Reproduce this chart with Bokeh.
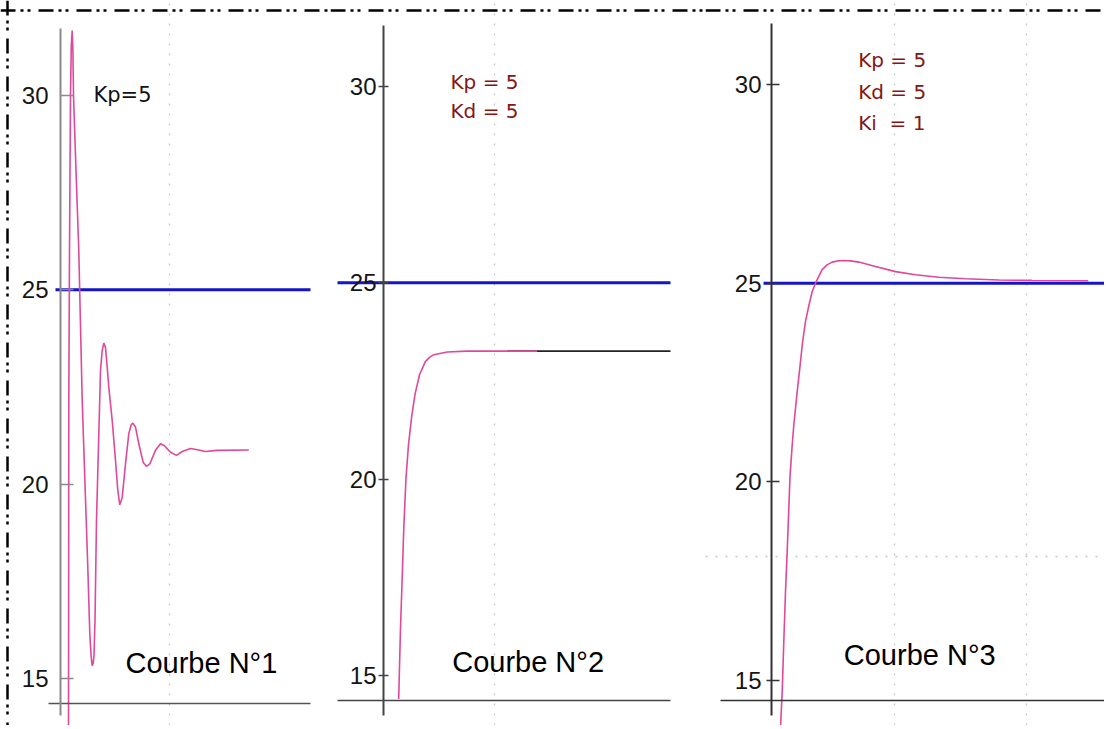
from bokeh.plotting import figure
from bokeh.layouts import row
from bokeh.models import Range1d, FixedTicker, Label, Span
from bokeh.embed import file_html
from bokeh.resources import INLINE

# ---------------- data (time in arbitrary units, temperature) ----------------
y_ticks = [15, 20, 25, 30]

# Courbe N°1 : Kp = 5
t1 = [0.80, 0.83, 0.90, 1.00, 1.08, 1.17, 1.24, 1.30, 1.56, 1.83, 2.17, 2.45, 2.73,
      2.93, 3.07, 3.17, 3.27, 3.35, 3.45, 3.60, 3.80, 4.00, 4.17, 4.33, 4.50, 4.67,
      4.83, 5.17, 5.50, 5.73, 5.93, 6.17, 6.50, 6.83, 7.07, 7.23, 7.50, 7.83, 8.27,
      8.60, 8.93, 9.50, 10.00, 10.40, 11.00, 11.60, 12.17, 13.00, 13.83, 14.50,
      15.67, 18.83]
y1 = [13.66, 22.16, 26.00, 30.00, 31.29, 31.67, 31.16, 30.00, 28.00, 26.00, 22.16,
      20.00, 17.86, 16.15, 15.55, 15.33, 15.40, 15.59, 16.49, 19.07, 21.00, 22.92,
      23.44, 23.63, 23.52, 23.01, 22.49, 21.64, 20.61, 19.84, 19.47, 19.66, 20.52,
      21.30, 21.53, 21.57, 21.47, 21.04, 20.56, 20.46, 20.52, 20.87, 21.04, 20.99,
      20.82, 20.74, 20.84, 20.92, 20.88, 20.84, 20.87, 20.88]
sp1_t = [-0.5, 25.0]
sp1_y = [25, 25]

# Courbe N°2 : Kp = 5, Kd = 5
t2 = [1.52, 1.70, 1.87, 2.03, 2.25, 2.50, 2.80, 3.15, 3.60, 4.20, 4.60, 5.03, 6.37,
      8.37, 15.37]
y2 = [14.40, 16.21, 17.49, 18.76, 20.03, 20.88, 21.56, 22.16, 22.66, 23.00, 23.10,
      23.17, 23.24, 23.26, 23.26]
t2_tail = [12.37, 28.70]
y2_tail = [23.26, 23.26]
sp2_t = [-4.6, 28.7]
sp2_y = [25, 25]

# Courbe N°3 : Kp = 5, Kd = 5, Ki = 1
t3 = [0.90, 1.07, 1.23, 1.40, 1.57, 1.85, 2.05, 2.23, 2.57, 2.83, 3.10, 3.40, 3.75,
      4.07, 4.47, 5.07, 5.55, 6.07, 6.60, 7.23, 7.90, 8.73, 10.40, 12.40, 14.40,
      16.73, 19.40, 22.73, 26.07, 31.67]
y3 = [13.80, 14.72, 15.98, 17.24, 18.25, 20.13, 20.85, 21.43, 22.27, 22.86, 23.50,
      24.04, 24.45, 24.79, 25.04, 25.34, 25.46, 25.53, 25.56, 25.57, 25.56, 25.53,
      25.42, 25.29, 25.21, 25.15, 25.11, 25.08, 25.07, 25.06]
sp3_t = [-0.8, 33.5]
sp3_y = [25, 25]

# ---------------- styling ----------------
PINK = "#e0489a"
BLUE = "#1515c8"
DARKRED = "#861515"
BORDER_DASH = "15 5 3 4 3 8"
H = 725


def panel(width, xr, yr, ybounds, xaxis_at, xbounds, axis_color, xaxis_color,
          tick_in, tick_out, standoff, vgrid, hgrid, top_border):
    p = figure(width=width, height=H, x_range=Range1d(*xr), y_range=Range1d(*yr),
               output_backend="svg", toolbar_location=None, min_border=0,
               outline_line_color=None, background_fill_color="white",
               border_fill_color="white")
    # y axis crossing at t = 0
    ya = p.yaxis[0]
    ya.fixed_location = 0
    ya.ticker = FixedTicker(ticks=y_ticks)
    ya.bounds = ybounds
    ya.axis_line_color = axis_color
    ya.axis_line_width = 2
    ya.major_tick_line_color = axis_color
    ya.major_tick_line_width = 1.5
    ya.major_tick_in = tick_in
    ya.major_tick_out = tick_out
    ya.minor_tick_line_color = None
    ya.major_label_standoff = standoff
    ya.major_label_text_font = "Liberation Sans"
    ya.major_label_text_font_size = "24px"
    ya.major_label_text_color = "#151515"
    # x axis, no labels
    xa = p.xaxis[0]
    xa.fixed_location = xaxis_at
    xa.ticker = FixedTicker(ticks=[])
    xa.bounds = xbounds
    xa.axis_line_color = xaxis_color
    xa.axis_line_width = 1.6
    xa.major_tick_line_color = None
    xa.minor_tick_line_color = None
    # faint dotted grid
    p.xgrid.ticker = FixedTicker(ticks=vgrid)
    p.xgrid.grid_line_color = "#b8b8b8"
    p.xgrid.grid_line_dash = "2 8"
    p.xgrid.grid_line_width = 1.3
    p.xgrid.grid_line_alpha = 0.8
    p.ygrid.ticker = FixedTicker(ticks=hgrid)
    p.ygrid.grid_line_color = "#b8b8b8"
    p.ygrid.grid_line_dash = "2 8"
    p.ygrid.grid_line_width = 1.3
    p.ygrid.grid_line_alpha = 0.8
    # dash-dot-dot frame border on top
    p.add_layout(Span(location=top_border, dimension="width", line_color="black",
                      line_width=2.5, line_dash=BORDER_DASH))
    return p


def label(p, x, y, text, font, size, color, dy):
    p.add_layout(Label(x=x, y=y, y_offset=dy, text=text, text_font=font,
                       text_font_size=size, text_color=color,
                       text_baseline="alphabetic", text_align="left"))


# ---- panel 1 ----
p1 = panel(330, (-6.0, 27.0), (13.791, 32.444), (14.05, 31.72), 14.357, (-1.2, 25.0),
           "#8a8a8a", "#555555", 13, 0, 12, [10.9], [], 32.187)
p1.add_layout(Span(location=-5.3, dimension="height", line_color="black",
                   line_width=2.5, line_dash=BORDER_DASH))
p1.line(sp1_t, sp1_y, line_color=BLUE, line_width=3)
p1.line(t1, y1, line_color=PINK, line_width=1.6)
label(p1, 3.3, 29.87, "Kp=5", "DejaVu Sans", "21px", "#111111", 6)
label(p1, 6.5, 15.10, "Courbe N°1", "Liberation Sans", "29px", "black", 12)

# ---- panel 2 ----
p2 = panel(375, (-5.3, 32.2), (13.727, 32.19), (13.98, 31.55), 14.363, (-4.6, 28.7),
           "#444444", "#444444", 5, 5, 2, [11.1], [], 31.935)
p2.line(sp2_t, sp2_y, line_color=BLUE, line_width=3)
p2.line(t2_tail, y2_tail, line_color="#222222", line_width=1.6)
p2.line(t2, y2, line_color=PINK, line_width=1.6)
label(p2, 6.7, 29.855, "Kp = 5", "DejaVu Sans", "20px", DARKRED, 10)
label(p2, 6.7, 29.109, "Kd = 5", "DejaVu Sans", "20px", DARKRED, 10)
label(p2, 6.87, 15.10, "Courbe N°2", "Liberation Sans", "29px", "black", 10)

# ---- panel 3 ----
p3 = panel(399, (-6.6, 33.3), (13.867, 32.114), (14.12, 31.54), 14.497, (-5.1, 33.3),
           "#333333", "#333333", 8, 5, 5, [12.3, 25.5], [18.11], 31.863)
p3.line(sp3_t, sp3_y, line_color=BLUE, line_width=3)
p3.line(t3, y3, line_color=PINK, line_width=1.6)
label(p3, 8.67, 30.436, "Kp = 5", "DejaVu Sans", "20px", DARKRED, 7)
label(p3, 8.67, 29.64, "Kd = 5", "DejaVu Sans", "20px", DARKRED, 7)
label(p3, 8.67, 28.86, "Ki\u00a0 = 1", "DejaVu Sans", "20px", DARKRED, 7)
label(p3, 7.23, 15.395, "Courbe N°3", "Liberation Sans", "29px", "black", 10)

layout = row(p1, p2, p3)
open("out.html", "w").write(file_html(layout, INLINE))
